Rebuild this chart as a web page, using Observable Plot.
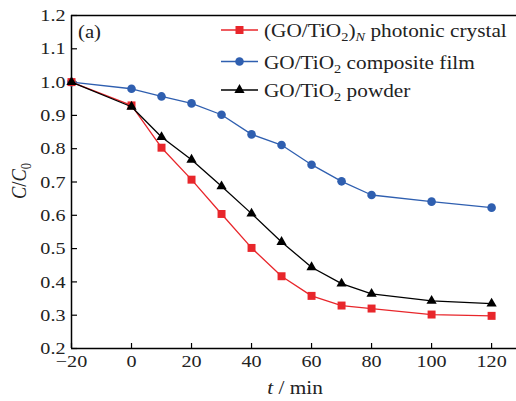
<!DOCTYPE html>
<html><head><meta charset="utf-8">
<script src="https://cdn.jsdelivr.net/npm/d3@7"></script>
<script src="https://cdn.jsdelivr.net/npm/@observablehq/plot@0.6"></script>
<style>body{margin:0;background:#fff;} svg, svg text, svg tspan{font-family:"Liberation Serif","Times New Roman",serif !important;}</style>
</head><body><div id="chart"></div>
<script>
const times = [-20, 0, 10, 20, 30, 40, 50, 60, 70, 80, 100, 120];
const photonic = [1.0, 0.930, 0.803, 0.707, 0.604, 0.502, 0.417, 0.358, 0.329, 0.320, 0.302, 0.298];
const composite = [1.0, 0.980, 0.957, 0.936, 0.902, 0.843, 0.811, 0.752, 0.702, 0.661, 0.641, 0.623];
const powder = [1.0, 0.926, 0.835, 0.767, 0.687, 0.605, 0.520, 0.444, 0.395, 0.364, 0.343, 0.335];
const xTicks = [-20, 0, 20, 40, 60, 80, 100, 120];
const yTicks = [0.2, 0.3, 0.4, 0.5, 0.6, 0.7, 0.8, 0.9, 1.0, 1.1, 1.2];
const colors = {photonic: "#e8262b", composite: "#2f5fb0", powder: "#000000"};

const mk = (vals) => times.map((t, i) => ({t, v: vals[i]}));
const dP = mk(photonic), dC = mk(composite), dW = mk(powder);

const SX = 1.15; // horizontal stretch of the reference's type
const fs = 17.5;
const plot = Plot.plot({
  width: 516, height: 401,
  marginLeft: 71, marginRight: 0, marginTop: 15, marginBottom: 53,
  style: {fontSize: fs + "px", background: "#fff", overflow: "visible"},
  x: {domain: [-20, 128.3]},
  y: {domain: [0.2, 1.2]},
  marks: [
    Plot.axisX(xTicks, {tickSize: 0, tickPadding: 6, fontSize: fs, label: null, fill: "#222", tickFormat: d => d < 0 ? "\u2212" + (-d) : String(d)}),
    Plot.axisX(xTicks, {tickSize: 5, dy: -5, text: null, label: null, strokeWidth: 1.2}),
    Plot.axisY(yTicks, {tickSize: 0, tickPadding: 6, fontSize: fs, label: null, tickFormat: d3.format(".1f"), fill: "#222"}),
    Plot.axisY(yTicks, {tickSize: 6, dx: 6, text: null, label: null, strokeWidth: 1.2}),
    Plot.ruleY([1.2], {strokeWidth: 1.5}),
    Plot.ruleY([0.2], {strokeWidth: 1.5}),
    Plot.ruleX([-20], {strokeWidth: 1.5}),
    Plot.line(dC, {x: "t", y: "v", stroke: colors.composite, strokeWidth: 1.3}),
    Plot.dot(dC, {x: "t", y: "v", fill: colors.composite, r: 4.3, symbol: "circle"}),
    Plot.line(dP, {x: "t", y: "v", stroke: colors.photonic, strokeWidth: 1.3}),
    Plot.dot(dP, {x: "t", y: "v", fill: colors.photonic, r: 4.5, symbol: "square"}),
    Plot.line(dW, {x: "t", y: "v", stroke: colors.powder, strokeWidth: 1.3}),
    Plot.dot(dW, {x: "t", y: "v", fill: colors.powder, r: 3.8, symbol: "triangle"})
  ]
});
document.getElementById("chart").appendChild(plot);

// stretch tick labels horizontally about their anchor
plot.querySelectorAll('g[aria-label$="tick label"] text').forEach(t => {
  const tr = t.getAttribute("transform") || "";
  t.setAttribute("transform", tr + ` scale(${SX},1)`);
});

const svg = d3.select(plot);
const g = svg.append("g").attr("text-anchor", "start").style("fill", "#222");
const place = (x, y) => g.append("g").attr("transform", `translate(${x},${y}) scale(${SX},1)`);
// panel label
place(78, 38).append("text").style("font-size", "18px").text("(a)");
// legend
const legend = [
  {c: colors.photonic, sym: d3.symbolSquare, size: 64, parts: [["(GO/TiO",0],["2",1],[")",0],["N",2],[" photonic crystal",0]]},
  {c: colors.composite, sym: d3.symbolCircle, size: 58, parts: [["GO/TiO",0],["2",1],[" composite film",0]]},
  {c: colors.powder, sym: d3.symbolTriangle, size: 45, parts: [["GO/TiO",0],["2",1],[" powder",0]]}
];
const rowY = [30, 61.5, 90];
legend.forEach((L, i) => {
  const y = rowY[i];
  g.append("line").attr("x1", 221).attr("x2", 258).attr("y1", y).attr("y2", y).attr("stroke", L.c).attr("stroke-width", 1.3);
  g.append("path").attr("d", d3.symbol(L.sym, L.size)()).attr("transform", `translate(239.5,${y})`).style("fill", L.c);
  const t = place(264, y + 7).append("text").style("font-size", "18.5px");
  let prev = 0;
  L.parts.forEach(([s, k]) => {
    const ts = t.append("tspan").text(s);
    if (k !== 0) {
      ts.style("font-size", "12.5px").attr("dy", prev === 0 ? 4 : 0);
      if (k === 2) ts.style("font-style", "italic");
    } else {
      ts.attr("dy", prev !== 0 ? -4 : 0);
    }
    prev = k;
  });
});
// axis titles
const xt = place(295, 394).append("text").attr("text-anchor", "middle").style("font-size", "18.5px");
xt.append("tspan").style("font-style", "italic").text("t");
xt.append("tspan").text(" / min");
const yt = g.append("g").attr("transform", `translate(26,181) scale(${SX},1) rotate(-90)`)
  .append("text").attr("text-anchor", "middle").style("font-size", "18.5px");
yt.append("tspan").style("font-style", "italic").text("C");
yt.append("tspan").text("/");
yt.append("tspan").style("font-style", "italic").text("C");
yt.append("tspan").style("font-size", "12.5px").attr("dy", 4).text("0");
</script></body></html>
